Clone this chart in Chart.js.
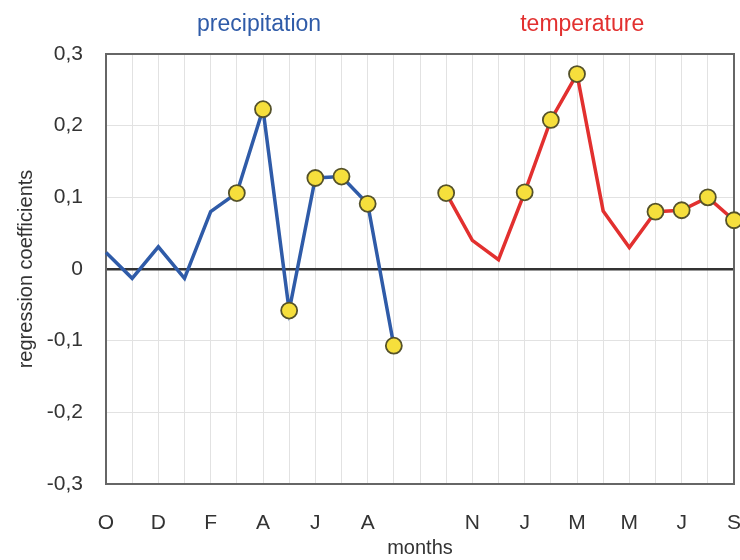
<!DOCTYPE html>
<html>
<head>
<meta charset="utf-8">
<script src="https://cdn.jsdelivr.net/npm/chart.js@4"></script>
<style>
  html, body { margin: 0; padding: 0; background: #fff; }
  #wrap { width: 740px; height: 560px; }
</style>
</head>
<body>
<div id="wrap"><canvas id="chart" width="740" height="560"></canvas></div>
<script>
// Month axis: Oct..Sep for precipitation, a gap, then Oct..Sep for temperature
const xTickLabels = ['O', '', 'D', '', 'F', '', 'A', '', 'J', '', 'A', '', '',
                     '', 'N', '', 'J', '', 'M', '', 'M', '', 'J', '', 'S'];

// Regression coefficients (Oct..Sep)
const precipitation = [0.023, -0.013, 0.031, -0.013, 0.080, 0.106, 0.223, -0.058, 0.127, 0.129, 0.091, -0.107];
const temperature   = [0.106, 0.040, 0.013, 0.107, 0.208, 0.272, 0.081, 0.030, 0.080, 0.082, 0.100, 0.068];

// Months marked with a yellow dot
const precipSignificant = [false, false, false, false, false, true, true, true, true, true, true, true];
const tempSignificant   = [true, false, false, true, true, true, false, false, true, true, true, true];

const yTicks = [-0.3, -0.2, -0.1, 0, 0.1, 0.2, 0.3];

const FONT = '"Liberation Sans", Arial, sans-serif';
const BLUE = '#2f5ba8';
const RED = '#e2302f';

// Precipitation on the first 12 slots, one empty slot, temperature on the last 12
const gap = [null];
const precipData = precipitation.concat(gap, temperature.map(() => null));
const tempData = precipitation.map(() => null).concat(gap, temperature);
const precipFlags = precipSignificant.concat([false], tempSignificant.map(() => false));
const tempFlags = precipSignificant.map(() => false).concat([false], tempSignificant);

const frameAndTitles = {
    id: 'frameAndTitles',
    beforeDatasetsDraw(chart) {
        const { ctx, chartArea: a } = chart;
        ctx.save();
        ctx.strokeStyle = '#666';
        ctx.lineWidth = 2;
        ctx.strokeRect(a.left, a.top, a.right - a.left, a.bottom - a.top);
        ctx.restore();
    },
    afterDraw(chart) {
        const { ctx } = chart;
        const x = chart.scales.x;
        ctx.save();
        ctx.font = '23px ' + FONT;
        ctx.textAlign = 'center';
        ctx.textBaseline = 'middle';
        ctx.fillStyle = BLUE;
        ctx.fillText('precipitation', x.getPixelForValue(5.85), 25);
        ctx.fillStyle = RED;
        ctx.fillText('temperature', x.getPixelForValue(18.2), 25);
        ctx.restore();
    }
};

function pointStyleFor(flags, color) {
    return {
        borderColor: color,
        borderWidth: 3.5,
        tension: 0,
        spanGaps: false,
        pointRadius: ctx => flags[ctx.dataIndex] ? 8 : 0,
        pointHoverRadius: ctx => flags[ctx.dataIndex] ? 8 : 0,
        pointBackgroundColor: '#f6df3c',
        pointBorderColor: '#55522a',
        pointBorderWidth: 1.8
    };
}

new Chart(document.getElementById('chart'), {
    type: 'line',
    data: {
        labels: xTickLabels,
        datasets: [
            { label: 'precipitation', data: precipData, ...pointStyleFor(precipFlags, BLUE) },
            { label: 'temperature', data: tempData, ...pointStyleFor(tempFlags, RED) }
        ]
    },
    options: {
        responsive: false,
        animation: false,
        layout: { autoPadding: false, padding: { top: 54, right: 6, bottom: 0, left: 0 } },
        plugins: {
            legend: { display: false },
            tooltip: { enabled: false }
        },
        scales: {
            x: {
                offset: false,
                border: { display: false },
                grid: { color: '#e2e2e2', lineWidth: 1, drawTicks: false },
                ticks: {
                    autoSkip: false,
                    maxRotation: 0,
                    padding: 27,
                    color: '#333',
                    font: { family: FONT, size: 21 }
                },
                title: {
                    display: true,
                    text: 'months',
                    color: '#333',
                    padding: { top: 4, bottom: 0 },
                    font: { family: FONT, size: 20 }
                },
                afterFit(scale) {
                    scale.height = 76;
                    scale.paddingLeft = 0;
                    scale.paddingRight = 0;
                }
            },
            y: {
                min: yTicks[0],
                max: yTicks[yTicks.length - 1],
                border: { display: false },
                afterBuildTicks(scale) {
                    scale.ticks = yTicks.map(v => ({ value: v }));
                },
                grid: {
                    drawTicks: false,
                    color: ctx => Math.abs(ctx.tick.value) < 1e-9 ? '#333' : '#e2e2e2',
                    lineWidth: ctx => Math.abs(ctx.tick.value) < 1e-9 ? 2.5 : 1
                },
                ticks: {
                    padding: 23,
                    color: '#333',
                    font: { family: FONT, size: 21 },
                    callback: v => Math.abs(v) < 1e-9 ? '0' : v.toFixed(1).replace('.', ',')
                },
                title: {
                    display: true,
                    text: 'regression coefficients',
                    color: '#333',
                    padding: { top: 14, bottom: 0 },
                    font: { family: FONT, size: 20 }
                },
                afterFit(scale) {
                    scale.width = 106;
                }
            }
        }
    },
    plugins: [frameAndTitles]
});
</script>
</body>
</html>
